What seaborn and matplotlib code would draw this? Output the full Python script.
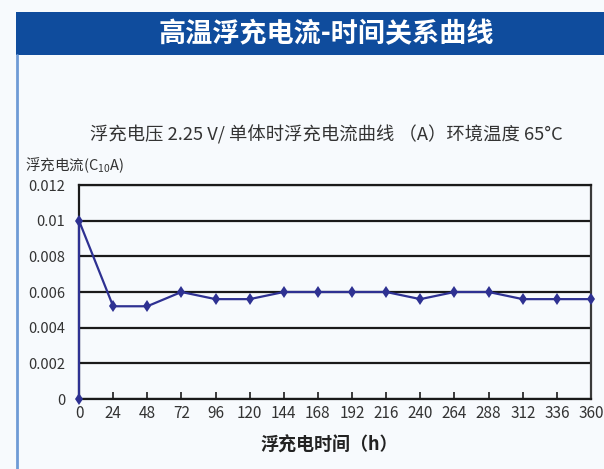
import matplotlib
matplotlib.use("Agg")
import matplotlib.pyplot as plt
import seaborn as sns
import pandas as pd

hours = [0, 0, 24, 48, 72, 96, 120, 144, 168, 192, 216, 240, 264, 288, 312, 336, 360]
current = [0, 0.01, 0.0052, 0.0052, 0.006, 0.0056, 0.0056, 0.006, 0.006, 0.006, 0.006,
           0.0056, 0.006, 0.006, 0.0056, 0.0056, 0.0056]
x_ticks = [0, 24, 48, 72, 96, 120, 144, 168, 192, 216, 240, 264, 288, 312, 336, 360]
y_ticks = [0, 0.002, 0.004, 0.006, 0.008, 0.01, 0.012]
y_tick_labels = ["0", "0.002", "0.004", "0.006", "0.008", "0.01", "0.012"]

header = "高温浮充电流-时间关系曲线"
subtitle = "浮充电压 2.25 V/ 单体时浮充电流曲线 （A）环境温度 65°C"
ylabel = "浮充电流(C$_{\\mathregular{10}}$A)"
xlabel = "浮充电时间（h）"

sns.set_theme(style="white")
plt.rcParams['font.family'] = ['Noto Sans CJK SC', 'DejaVu Sans']
plt.rcParams['mathtext.fontset'] = 'custom'
plt.rcParams['mathtext.rm'] = 'Noto Sans CJK SC'
plt.rcParams['axes.unicode_minus'] = False

bg = "#f7fafd"
fig = plt.figure(figsize=(6.04, 4.69), dpi=100, facecolor=bg)

# header bar
fig.patches.append(plt.Rectangle((16/604, 1 - 55/469), 1 - 16/604, 43/469,
                                 transform=fig.transFigure, facecolor="#0f4c9d",
                                 edgecolor="none", zorder=0))
fig.text(326/604, 1 - 34/469, header, color="white", fontsize=19.5, fontweight="bold",
         ha="center", va="center")
# left panel border
fig.lines.append(plt.Line2D([17/604, 17/604], [0, 1 - 55/469], transform=fig.transFigure,
                            color="#6f9bd6", linewidth=2))

ax = fig.add_axes([79/604, 70/469, 512/604, 214/469])
ax.set_facecolor(bg)
df = pd.DataFrame({"h": hours, "i": current})
sns.lineplot(data=df, x="h", y="i", ax=ax, sort=False, estimator=None, color="#2e3192",
             linewidth=1.6, marker="d", markersize=6, markeredgewidth=0, zorder=5,
             clip_on=False)

ax.set_xlim(0, 360)
ax.set_ylim(0, 0.012)
ax.set_xticks(x_ticks)
ax.set_xticklabels([str(t) for t in x_ticks])
ax.set_yticks(y_ticks)
ax.set_yticklabels(y_tick_labels)
ax.grid(axis="y", color="#1a1a1a", linewidth=1.6)
ax.set_axisbelow(True)
for s in ax.spines.values():
    s.set_color("#1a1a1a")
    s.set_linewidth(1.6)
ax.spines["right"].set_color("#3a3a3a")
ax.tick_params(axis="x", direction="in", length=5, width=1.2, color="#1a1a1a",
               labelsize=11, labelcolor="#333333", pad=4, bottom=True)
ax.tick_params(axis="y", length=0, labelsize=10.5, labelcolor="#333333", pad=10)
ax.set_xlabel("")
ax.set_ylabel("")

fig.text(326/604, 1 - 135/469, subtitle, fontsize=13.2, color="#333333",
         ha="center", va="center")
fig.text(25/604, 1 - 165/469, ylabel, fontsize=10.5, color="#333333",
         ha="left", va="center")
fig.text(329/604, 1 - 445/469, xlabel, fontsize=13, fontweight="bold", color="#222222",
         ha="center", va="center")

fig.savefig("out.png", dpi=100, facecolor=bg)
